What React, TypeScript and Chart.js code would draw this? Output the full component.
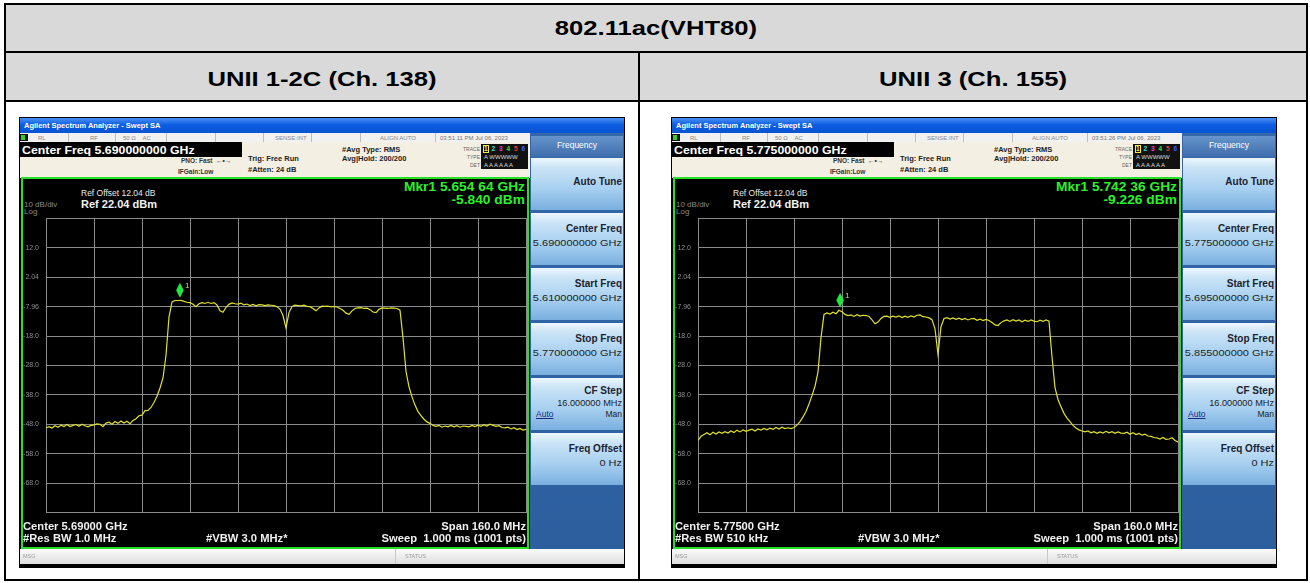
import React, { useEffect, useRef } from "react";
import { Chart, registerables } from "chart.js";
Chart.register(...registerables);

const FONT = "'Liberation Sans', Arial, sans-serif";

// ---- table texts ----
const TITLE = "802.11ac(VHT80)";
const HEAD_LEFT = "UNII 1-2C (Ch. 138)";
const HEAD_RIGHT = "UNII 3 (Ch. 155)";

// ---- y grid (dBm) ----
const yTickValues = [-77.96, -67.96, -57.96, -47.96, -37.96, -27.96, -17.96, -7.96, 2.04, 12.04, 22.04];
const yTickLabels = ["", "-68.0", "-58.0", "-48.0", "-38.0", "-28.0", "-18.0", "-7.96", "2.04", "12.0", ""];
const refLevel = 22.04;
const bottomLevel = -77.96;
const xDivisions = 10;

// ---- left: UNII 1-2C ch 138 ----
const startFreqL = 5610; // MHz
const stopFreqL = 5770;
const stepL = 1;
const traceL = [
  -49.1, -48.7, -49.2, -48.4, -48.9, -48.2, -48.7, -48.0, -48.7, -48.3,
  -48.0, -48.6, -47.9, -48.4, -48.8, -48.3, -48.1, -47.8, -47.9, -48.7,
  -47.5, -47.2, -47.9, -47.0, -47.6, -46.8, -47.5, -46.9, -47.7, -46.6,
  -46.0, -45.0, -44.8, -43.3, -43.2, -42.2, -40.5, -38.4, -35.6, -32.2,
  -24.5, -11.5, -6.4, -5.9, -5.9, -5.84, -6.2, -6.5, -6.6, -7.2,
  -8.0, -7.0, -6.6, -6.9, -6.5, -6.9, -6.6, -7.4, -9.4, -9.9,
  -8.2, -7.2, -6.7, -7.0, -7.1, -6.8, -7.4, -7.1, -7.6, -7.2,
  -7.7, -7.3, -7.4, -7.6, -7.4, -7.5, -7.6, -8.0, -8.8, -11.0,
  -15.2, -10.0, -7.9, -7.5, -7.6, -7.7, -7.5, -7.9, -8.0, -8.6,
  -9.4, -8.4, -7.8, -7.9, -7.8, -8.1, -7.9, -8.1, -8.6, -9.2,
  -10.2, -10.6, -9.4, -8.6, -8.4, -8.3, -8.6, -8.5, -9.0, -9.8,
  -10.0, -8.9, -8.4, -8.5, -8.6, -8.4, -8.5, -8.6, -9.2, -18.5,
  -30.0, -35.2, -38.6, -41.4, -43.6, -45.0, -46.2, -47.1, -47.6, -48.3,
  -48.6, -48.3, -48.9, -48.5, -48.8, -48.3, -48.8, -48.4, -48.9, -48.5,
  -48.6, -48.8, -48.3, -48.7, -48.2, -48.6, -48.1, -48.5, -47.9, -48.3,
  -48.6, -48.4, -49.0, -49.1, -48.9, -49.5, -49.1, -49.7, -49.3, -49.9,
  -49.6,
];
const markerFreqL = 5654.64;
const markerLevelL = -5.84;

// ---- right: UNII 3 ch 155 ----
const startFreqR = 5695;
const stopFreqR = 5855;
const stepR = 1;
const traceR = [
  -53.4, -52.0, -51.4, -50.8, -51.5, -50.6, -51.2, -50.5, -51.0, -50.4,
  -50.9, -50.2, -50.7, -49.9, -50.5, -49.8, -50.3, -49.9, -49.6, -50.2,
  -49.5, -49.9, -49.3, -49.8, -49.2, -49.6, -49.0, -49.5, -48.9, -49.4,
  -49.1, -49.4, -49.0, -48.2, -47.0, -45.4, -43.6, -41.0, -38.2, -35.0,
  -30.2, -18.5, -10.6, -10.1, -10.5, -9.9, -10.4, -9.23, -9.7, -10.6,
  -11.0, -10.8, -11.3, -10.7, -11.2, -10.9, -11.0, -11.3, -12.5, -13.8,
  -13.2, -12.0, -11.3, -11.2, -11.6, -11.2, -11.5, -11.1, -11.7, -11.2,
  -11.6, -11.1, -11.5, -10.9, -10.8, -11.4, -11.5, -11.8, -12.4, -15.5,
  -24.2, -14.8, -12.0, -11.7, -12.2, -11.8, -12.3, -11.9, -12.4, -12.0,
  -12.5, -12.1, -12.0, -12.6, -12.2, -12.7, -12.3, -12.7, -13.4, -14.2,
  -14.4, -13.4, -12.8, -12.5, -13.0, -12.4, -12.9, -12.5, -13.1, -12.6,
  -13.0, -12.5, -12.9, -13.1, -12.6, -13.0, -12.5, -12.9, -25.0, -35.5,
  -39.5, -42.0, -44.2, -45.8, -47.0, -48.3, -49.2, -49.8, -50.2, -50.5,
  -50.2, -50.8, -50.4, -51.0, -50.5, -50.9, -50.3, -50.8, -50.4, -51.0,
  -50.5, -50.9, -51.0, -50.6, -51.3, -50.8, -51.4, -51.0, -51.6, -51.3,
  -51.9, -52.0, -52.4, -52.5, -52.9, -52.4, -53.0, -52.9, -52.5, -53.4,
  -53.9,
];
const markerFreqR = 5742.36;
const markerLevelR = -9.226;

// ---- screen texts ----
const centerFreqTextL = "Center Freq 5.690000000 GHz";
const centerFreqTextR = "Center Freq 5.775000000 GHz";
const timeL = "03:51:11 PM Jul 06, 2023";
const timeR = "03:51:26 PM Jul 06, 2023";
const mkrTextL = ["Mkr1 5.654 64 GHz", "-5.840 dBm"];
const mkrTextR = ["Mkr1 5.742 36 GHz", "-9.226 dBm"];
const bottomTextL = ["Center 5.69000 GHz", "#Res BW 1.0 MHz"];
const bottomTextR = ["Center 5.77500 GHz", "#Res BW 510 kHz"];
const softLabels = ["Auto Tune", "Center Freq", "Start Freq", "Stop Freq", "CF Step", "Freq Offset"];
const softValuesL = ["", "5.690000000 GHz", "5.610000000 GHz", "5.770000000 GHz", "16.000000 MHz", "0 Hz"];
const softValuesR = ["", "5.775000000 GHz", "5.695000000 GHz", "5.855000000 GHz", "16.000000 MHz", "0 Hz"];

const GRID = "#8a8a8a";
const TRACE = "#e2e22c";

type TxtProps = {
  x: number; y: number; size: number; text: string; color?: string; bold?: boolean;
  align?: "left" | "right" | "center"; sx?: number; underline?: boolean;
};
function Txt({ x, y, size, text, color = "#000", bold = false, align = "left", sx = 1, underline = false }: TxtProps) {
  const style: any = {
    position: "absolute", left: x, top: y - size / 2, fontSize: size, lineHeight: size + "px",
    fontFamily: FONT, fontWeight: bold ? 700 : 400, color, whiteSpace: "pre",
    textDecoration: underline ? "underline" : "none",
  };
  if (align === "left") { style.transform = `scaleX(${sx})`; style.transformOrigin = "left center"; }
  if (align === "right") { style.transform = `translateX(-100%) scaleX(${sx})`; style.transformOrigin = "right center"; }
  if (align === "center") { style.transform = `translateX(-50%) scaleX(${sx})`; style.transformOrigin = "center center"; }
  return <div style={style}>{text}</div>;
}

function Spectrum({ start, stop, step, values, mf, mv }: { start: number; stop: number; step: number; values: number[]; mf: number; mv: number }) {
  const ref = useRef<HTMLCanvasElement | null>(null);
  useEffect(() => {
    if (!ref.current) return;
    const pts = values.map((v, i) => ({ x: start + i * step, y: v }));
    const gridX: number[] = [];
    for (let k = 0; k <= xDivisions; k++) gridX.push(start + ((stop - start) * k) / xDivisions);
    const markerPlugin = {
      id: "mkr",
      afterDatasetsDraw(chart: any) {
        const { ctx, scales } = chart;
        const px = scales.x.getPixelForValue(mf);
        const py = scales.y.getPixelForValue(mv);
        const cy = py - 10;
        ctx.save();
        ctx.fillStyle = "#22e63a";
        ctx.beginPath();
        ctx.moveTo(px, cy - 7.5);
        ctx.lineTo(px + 3.8, cy);
        ctx.lineTo(px, cy + 7.5);
        ctx.lineTo(px - 3.8, cy);
        ctx.closePath();
        ctx.fill();
        ctx.fillStyle = "#d6d650";
        ctx.font = `8px ${FONT}`;
        ctx.textBaseline = "middle";
        ctx.fillText("1", px + 5, cy - 5);
        ctx.restore();
      },
    };
    const chart = new Chart(ref.current, {
      type: "line",
      data: {
        datasets: [{
          data: pts, borderColor: TRACE, borderWidth: 1.2, pointRadius: 0, tension: 0, fill: false,
        }],
      },
      options: {
        animation: false, responsive: false, maintainAspectRatio: false, events: [],
        layout: { padding: { top: 6, bottom: 6, right: 3, left: 0 } },
        plugins: { legend: { display: false }, tooltip: { enabled: false } },
        scales: {
          x: {
            type: "linear", min: start, max: stop,
            afterBuildTicks: (s: any) => { s.ticks = gridX.map((v) => ({ value: v })); },
            ticks: { display: false },
            grid: { color: GRID, drawTicks: false, lineWidth: 1 },
            border: { display: true, color: GRID },
            afterFit: (s: any) => { s.height = 0; },
          },
          y: {
            type: "linear", min: bottomLevel, max: refLevel,
            afterBuildTicks: (s: any) => { s.ticks = yTickValues.map((v) => ({ value: v })); },
            ticks: {
              autoSkip: false, padding: 7, color: "#8e8e8e",
              font: { size: 7, family: FONT },
              callback: (val: any) => {
                const i = yTickValues.findIndex((t) => Math.abs(t - Number(val)) < 0.01);
                return i >= 0 ? yTickLabels[i] : "";
              },
            },
            grid: { color: GRID, drawTicks: false, lineWidth: 1 },
            border: { display: true, color: GRID },
            afterFit: (s: any) => { s.width = 24; },
          },
        },
      } as any,
      plugins: [markerPlugin],
    });
    return () => chart.destroy();
  }, []);
  return <canvas ref={ref} width={507} height={317} style={{ position: "absolute", left: 3, top: 90, width: 507, height: 317 }} />;
}

type AnalyzerProps = {
  ox: number; centerText: string; time: string; mkr: string[]; bottom: string[]; softValues: string[];
  start: number; stop: number; step: number; values: number[]; mf: number; mv: number;
};

function Analyzer(p: AnalyzerProps) {
  const infoSeps = [49, 96, 147, 196, 244, 292, 341, 416];
  const traceColors = ["#f0f040", "#40e0e0", "#e040e0", "#40e040", "#e04040", "#4060ff"];
  return (
    <div style={{ position: "absolute", left: p.ox, top: 117, width: 606, height: 451, background: "#000", overflow: "hidden" }}>
      {/* title bar */}
      <div style={{ position: "absolute", left: 1, top: 1, width: 604, height: 15, background: "linear-gradient(#4a90f4, #0d5ee2 45%, #0753d2)" }} />
      <Txt x={5} y={8.5} size={7.5} bold text="Agilent Spectrum Analyzer - Swept SA" color="#fff" />
      {/* info row */}
      <div style={{ position: "absolute", left: 1, top: 16, width: 510, height: 9, background: "#f1f1f1" }} />
      {infoSeps.map((s, i) => (
        <div key={i} style={{ position: "absolute", left: s, top: 16, width: 1, height: 9, background: "#bdbdbd" }} />
      ))}
      <div style={{ position: "absolute", left: 1, top: 17, width: 8, height: 7, background: "#111" }} />
      <div style={{ position: "absolute", left: 2, top: 18, width: 4, height: 5, background: "#3c3" }} />
      <Txt x={19} y={20.5} size={6} text="RL" color="#888" />
      <Txt x={71} y={20.5} size={6} text="RF" color="#888" />
      <Txt x={104} y={20.5} size={6} text="50 Ω    AC" color="#888" />
      <Txt x={256} y={20.5} size={6} text="SENSE:INT" color="#888" />
      <Txt x={361} y={20.5} size={6} text="ALIGN AUTO" color="#888" />
      <Txt x={421} y={20.5} size={6} text={p.time} color="#777" />
      {/* beige settings area */}
      <div style={{ position: "absolute", left: 1, top: 25, width: 510, height: 36, background: "#f3efe3" }} />
      <div style={{ position: "absolute", left: 1, top: 25, width: 222, height: 15, background: "#000" }} />
      <Txt x={3} y={33} size={11} bold text={p.centerText} color="#fff" sx={1.12} />
      <Txt x={162} y={44} size={6.5} bold text="PNO: Fast  ←•→" color="#333" />
      <Txt x={159} y={55} size={6.5} bold text="IFGain:Low" color="#333" />
      <Txt x={229} y={42} size={7.5} bold text="Trig: Free Run" color="#222" />
      <Txt x={229} y={53} size={7.5} bold text="#Atten: 24 dB" color="#222" />
      <Txt x={323} y={33} size={7.5} bold text="#Avg Type: RMS" color="#222" />
      <Txt x={323} y={41.5} size={7.5} bold text="Avg|Hold: 200/200" color="#222" />
      <Txt x={461} y={32} size={5} text="TRACE" color="#666" align="right" />
      <Txt x={461} y={40} size={5} text="TYPE" color="#666" align="right" />
      <Txt x={461} y={48} size={5} text="DET" color="#666" align="right" />
      <div style={{ position: "absolute", left: 462, top: 27, width: 47, height: 25, background: "#111" }} />
      {traceColors.map((c, i) => (
        <Txt key={i} x={465 + i * 7.5} y={32} size={6.5} bold text={String(i + 1)} color={c} />
      ))}
      <div style={{ position: "absolute", left: 464, top: 28, width: 6, height: 8, border: "1px solid #f0f040", boxSizing: "border-box" }} />
      <Txt x={465} y={40} size={6} text="A WWWWW" color="#ddd" />
      <Txt x={465} y={48} size={6} text="A A A A A A" color="#ddd" />
      {/* softkey panel */}
      <div style={{ position: "absolute", left: 511, top: 16, width: 94, height: 416, background: "linear-gradient(#3468a8, #2d5f9f)" }} />
      <div style={{ position: "absolute", left: 512, top: 19, width: 92, height: 21, background: "linear-gradient(#6794cc, #3d6dab)" }} />
      <Txt x={558} y={28.5} size={8.5} text="Frequency" color="#fff" align="center" />
      {softLabels.map((lab, k) => {
        const top = 41 + 55 * k;
        const val = p.softValues[k];
        const els: any[] = [
          <div key={"b" + k} style={{ position: "absolute", left: 512, top, width: 92, height: 52, background: "linear-gradient(#eef7fd 0%, #cbe4f6 18%, #a6cff0 60%, #7aafdf 100%)" }} />,
        ];
        if (!val) {
          els.push(<Txt key={"l" + k} x={603} y={top + 24} size={10} bold text={lab} color="#1c2230" align="right" />);
        } else if (lab === "CF Step") {
          els.push(<Txt key={"l" + k} x={603} y={top + 13} size={10} bold text={lab} color="#1c2230" align="right" />);
          els.push(<Txt key={"v" + k} x={603} y={top + 25} size={8.5} text={val} color="#222" align="right" sx={1.08} />);
          els.push(<Txt key={"a" + k} x={517} y={top + 36} size={8.5} text="Auto" color="#1a2a80" underline />);
          els.push(<Txt key={"m" + k} x={603} y={top + 36} size={8.5} text="Man" color="#222" align="right" />);
        } else {
          els.push(<Txt key={"l" + k} x={603} y={top + 16} size={10} bold text={lab} color="#1c2230" align="right" />);
          els.push(<Txt key={"v" + k} x={603} y={top + 30} size={9} text={val} color="#222" align="right" sx={1.22} />);
        }
        return els;
      })}
      {/* display */}
      <div style={{ position: "absolute", left: 2, top: 60, width: 508, height: 372, border: "2px solid #25e025", boxSizing: "border-box", background: "#000" }} />
      <Txt x={62} y={76} size={8.5} text="Ref Offset 12.04 dB" color="#e8e8e8" />
      <Txt x={62} y={87} size={10.5} bold text="Ref 22.04 dBm" color="#f2f2f2" sx={1.05} />
      <Txt x={5} y={88} size={8} text="10 dB/div" color="#8a8a8a" />
      <Txt x={5} y={95} size={8} text="Log" color="#8a8a8a" />
      <Txt x={506} y={69} size={13} bold text={p.mkr[0]} color="#2cf02c" align="right" sx={1.06} />
      <Txt x={506} y={82} size={13} bold text={p.mkr[1]} color="#2cf02c" align="right" sx={1.06} />
      <Spectrum start={p.start} stop={p.stop} step={p.step} values={p.values} mf={p.mf} mv={p.mv} />
      <Txt x={4} y={410} size={10} bold text={p.bottom[0]} color="#f0f0f0" sx={1.12} />
      <Txt x={4} y={422} size={10} bold text={p.bottom[1]} color="#f0f0f0" sx={1.12} />
      <Txt x={187} y={422} size={10} bold text="#VBW 3.0 MHz*" color="#f0f0f0" sx={1.12} />
      <Txt x={507} y={410} size={10} bold text="Span 160.0 MHz" color="#f0f0f0" align="right" sx={1.12} />
      <Txt x={507} y={422} size={10} bold text="Sweep  1.000 ms (1001 pts)" color="#f0f0f0" align="right" sx={1.12} />
      {/* status bar */}
      <div style={{ position: "absolute", left: 1, top: 432, width: 604, height: 15, background: "linear-gradient(#fbfbfb, #dedede)" }} />
      <div style={{ position: "absolute", left: 376, top: 432, width: 1, height: 15, background: "#c8c8c8" }} />
      <Txt x={4} y={440} size={5.5} text="MSG" color="#999" />
      <Txt x={386} y={440} size={5.5} text="STATUS" color="#999" />
    </div>
  );
}

export default function App() {
  return (
    <div style={{ position: "relative", width: 1310, height: 583, background: "#fff", overflow: "hidden", fontFamily: FONT }}>
      <style>{"body{margin:0}"}</style>
      {/* table rows */}
      <div style={{ position: "absolute", left: 6, top: 5, width: 1300, height: 96, background: "#d9d9d9" }} />
      <div style={{ position: "absolute", left: 4, top: 3, width: 1304, height: 578, border: "2px solid #000", boxSizing: "border-box" }} />
      <div style={{ position: "absolute", left: 4, top: 51, width: 1304, height: 2, background: "#000" }} />
      <div style={{ position: "absolute", left: 4, top: 100, width: 1304, height: 2, background: "#000" }} />
      <div style={{ position: "absolute", left: 638, top: 51, width: 2, height: 530, background: "#000" }} />
      <Txt x={656} y={27} size={21} bold text={TITLE} align="center" sx={1.22} />
      <Txt x={322} y={78} size={21} bold text={HEAD_LEFT} align="center" sx={1.22} />
      <Txt x={973} y={78} size={21} bold text={HEAD_RIGHT} align="center" sx={1.22} />
      <Analyzer ox={19} centerText={centerFreqTextL} time={timeL} mkr={mkrTextL} bottom={bottomTextL} softValues={softValuesL}
        start={startFreqL} stop={stopFreqL} step={stepL} values={traceL} mf={markerFreqL} mv={markerLevelL} />
      <Analyzer ox={671} centerText={centerFreqTextR} time={timeR} mkr={mkrTextR} bottom={bottomTextR} softValues={softValuesR}
        start={startFreqR} stop={stopFreqR} step={stepR} values={traceR} mf={markerFreqR} mv={markerLevelR} />
    </div>
  );
}
